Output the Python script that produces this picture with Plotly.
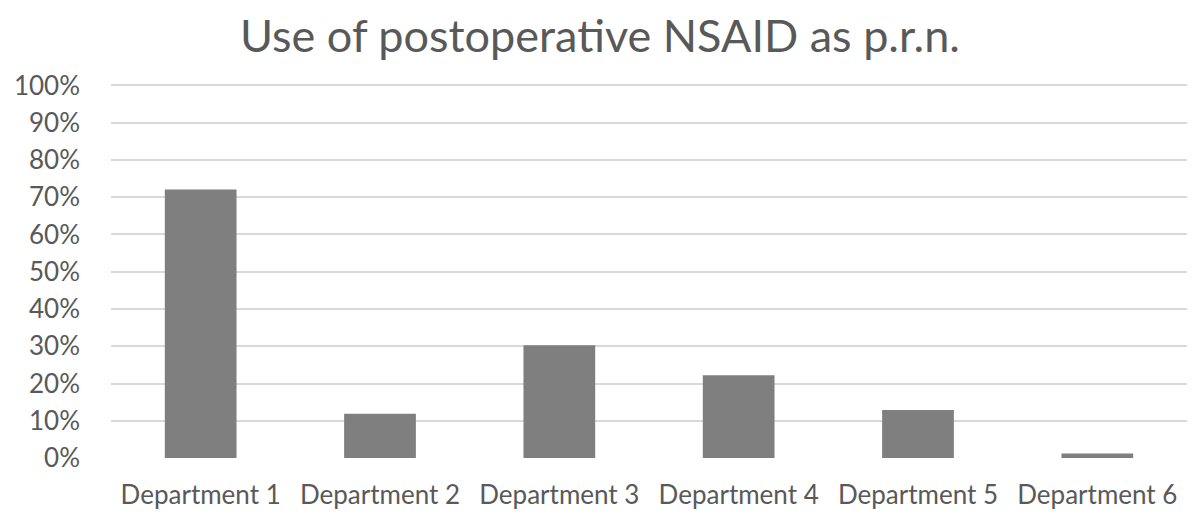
import plotly.graph_objects as go

categories = ["Department 1", "Department 2", "Department 3", "Department 4", "Department 5", "Department 6"]
values = [0.721, 0.119, 0.303, 0.222, 0.129, 0.012]
tick_vals = [0, 0.1, 0.2, 0.3, 0.4, 0.5, 0.6, 0.7, 0.8, 0.9, 1.0]
tick_text = ["0%", "10%", "20%", "30%", "40%", "50%", "60%", "70%", "80%", "90%", "100%"]
title = "Use of postoperative NSAID as p.r.n."

fig = go.Figure(go.Bar(x=categories, y=values, marker=dict(color="#7f7f7f", line=dict(width=0))))

fig.update_layout(
    width=1200, height=519,
    paper_bgcolor="white", plot_bgcolor="white",
    font=dict(family="Lato, Carlito, sans-serif", color="#595959"),
    title=dict(text=title, x=0.5, xanchor="center", y=1 - 36/519, yanchor="middle",
               font=dict(size=45, color="#595959")),
    margin=dict(l=111, r=13, t=84, b=61),
    bargap=0.6,
    showlegend=False,
)
fig.update_yaxes(range=[0, 1.004], tickvals=tick_vals, ticktext=tick_text,
                 showgrid=True, gridcolor="#d9d9d9", gridwidth=2,
                 zeroline=False, showline=False, ticks="", automargin=False,
                 tickfont=dict(size=26, color="#595959"), ticklabelstandoff=30)
fig.update_xaxes(showgrid=False, zeroline=False, showline=False, ticks="", automargin=False,
                 tickfont=dict(size=26, color="#595959"), ticklabelstandoff=19)

fig.write_html("out.html", config={"displayModeBar": False},
               post_script="document.body.style.margin='0';document.body.style.overflow='hidden';")
